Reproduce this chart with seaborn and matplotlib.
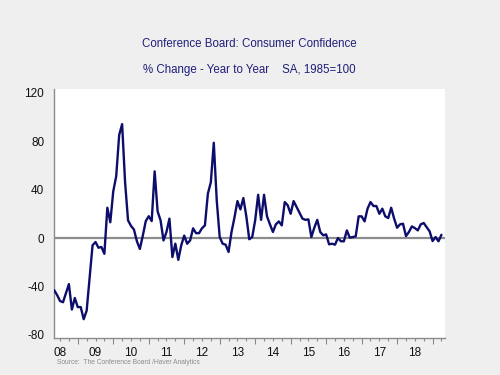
import numpy as np
import pandas as pd
import matplotlib
matplotlib.use('Agg')
import matplotlib.pyplot as plt
import seaborn as sns
from matplotlib.ticker import FixedLocator, FuncFormatter

# Consumer confidence, % change year to year, monthly from May 2008
pct_2008_2013 = [-43, -47, -52, -53, -45.5, -38, -59, -49.5, -57, -57, -67, -60,
                 -33, -6, -3.3, -8, -7.4, -13, 25, 13, 38.5, 51, 85, 94,
                 46, 14.6, 10, 7, -2.7, -9, 2, 14, 18, 14, 55, 22,
                 14.6, -2, 5, 16, -15.7, -4.7, -18, -6, 2, -4.7, -2, 8,
                 4, 4, 8, 10.4, 36.6, 46, 78.6, 31, 0.8, -4.7, -5.5, -11.5,
                 5, 17, 30.5, 23.6, 33, 18, -1, 0.8]
pct_2013_2019 = [14.6, 35.7, 15, 35.7, 17.9, 11.3, 5, 11.3, 13.7, 10.4,
                 29.7, 27, 20, 30.5, 25.6, 20.6, 16, 15, 15.4, 0.8,
                 8.5, 15, 5, 2.2, 3, -5.2, -4.7, -5.5, 0, -2.7,
                 -2.7, 6.3, 0.3, 0.8, 1.4, 17.9, 17.9, 13.7, 24.2, 29.7,
                 26.4, 26.4, 20, 24.2, 17.9, 16.5, 25, 16, 8.5, 11.3,
                 11.8, 1.6, 5, 9.6, 8.2, 6.3, 11.3, 12.4, 9, 5.5,
                 -2.5, 0.8, -2.7, 2.7]
first_month = '2008-05-01'
year_labels = ['08', '09', '10', '11', '12', '13', '14', '15', '16', '17', '18']
y_ticks = [-80, -40, 0, 40, 80, 120]

values = pct_2008_2013 + pct_2013_2019
dates = pd.date_range(first_month, periods=len(values), freq='MS')
df = pd.DataFrame({'t': dates.year + (dates.month - 1) / 12, 'pct': values})

sns.set_style('white')
plt.rcParams['font.family'] = ['Liberation Sans', 'DejaVu Sans']

fig = plt.figure(figsize=(5, 3.75), dpi=100, facecolor='#efefef')
ax = fig.add_axes([0.108, 0.0987, 0.782, 0.664])
ax.set_facecolor('white')

ax.axhline(0, color='#8c8c8c', lw=1.6, zorder=1)
sns.lineplot(data=df, x='t', y='pct', color='#0d0d6b', lw=1.7, ax=ax, zorder=3)

ax.set_xlim(2008.33, 2019.35)
ax.set_ylim(-82.5, 123)
ax.set_xlabel('')
ax.set_ylabel('')

# year boundaries as tall ticks, quarters as short ones, labels mid-year
first_year = 2008
ax.xaxis.set_major_locator(FixedLocator(np.arange(first_year, first_year + 12)))
ax.xaxis.set_minor_locator(FixedLocator(np.arange(first_year, first_year + 11.76, 0.25)))
label_at = {first_year + i + 0.5: lab for i, lab in enumerate(year_labels)}
ax.xaxis.set_minor_formatter(FuncFormatter(lambda v, p: label_at.get(round(v, 2), '')))
ax.xaxis.set_major_formatter(FuncFormatter(lambda v, p: ''))
ax.tick_params(axis='x', which='both', bottom=True, direction='out', color='#888888', width=0.8)
ax.tick_params(axis='x', which='major', length=4.5)
ax.tick_params(axis='x', which='minor', length=2.5, pad=4, labelsize=8.5, labelcolor='#111111')

ax.set_yticks(y_ticks)
ax.set_yticklabels([str(v) for v in y_ticks])
ax.tick_params(axis='y', left=False, length=0, pad=7, labelsize=8.5, labelcolor='#111111')

sns.despine(ax=ax)
for side in ['left', 'bottom']:
    ax.spines[side].set_color('#8c8c8c')
    ax.spines[side].set_linewidth(1.0)

fig.text(0.498, 1 - 44 / 375, 'Conference Board: Consumer Confidence',
         ha='center', va='center', color='#1f1f7a', fontsize=8.3)
fig.text(0.498, 1 - 70 / 375, '% Change - Year to Year    SA, 1985=100',
         ha='center', va='center', color='#1f1f7a', fontsize=8.3)
fig.text(57 / 500, 1 - 363 / 375, 'Source:  The Conference Board /Haver Analytics',
         ha='left', va='center', color='#8c8c8c', fontsize=4.8)

fig.savefig('out.png', dpi=100, facecolor=fig.get_facecolor())
